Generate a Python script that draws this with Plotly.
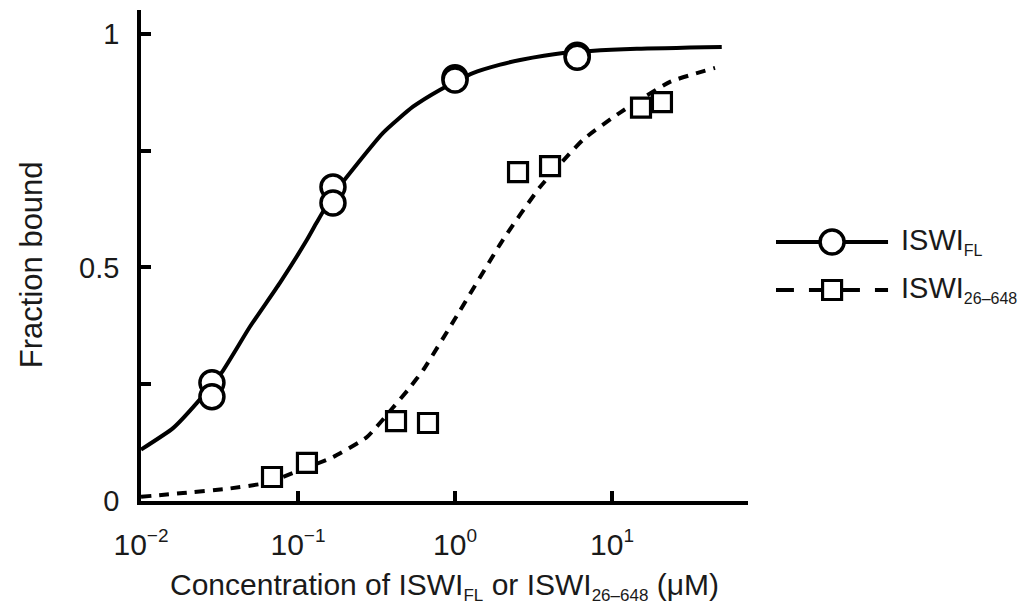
import plotly.graph_objects as go

# Measured binding data (fraction bound vs. protein concentration, µM)
fl_conc = [0.0283, 0.0283, 0.167, 0.167, 1.0, 1.0, 6.0, 6.0]
fl_bound = [0.253, 0.223, 0.672, 0.638, 0.906, 0.901, 0.954, 0.950]

trunc_conc = [0.0683, 0.114, 0.421, 0.673, 2.52, 4.03, 15.3, 20.8]
trunc_bound = [0.0514, 0.0814, 0.171, 0.167, 0.704, 0.717, 0.842, 0.854]

# Fitted binding curves
fl_fit_conc = [0.01, 0.016, 0.0227, 0.0328, 0.0494, 0.0767, 0.114, 0.132, 0.167, 0.205,
               0.348, 0.54, 0.80, 1.30, 1.94, 2.6, 4.88, 14.4, 50.0]
fl_fit_bound = [0.11, 0.156, 0.21, 0.276, 0.373, 0.467, 0.559, 0.597, 0.655, 0.694,
                0.788, 0.844, 0.880, 0.916, 0.934, 0.944, 0.959, 0.968, 0.972]

trunc_fit_conc = [0.01, 0.0185, 0.0353, 0.0635, 0.0929, 0.167, 0.275, 0.403, 0.502,
                  0.626, 1.0, 2.02, 3.48, 6.53, 11.2, 23.4, 45.3]
trunc_fit_bound = [0.009, 0.017, 0.026, 0.039, 0.06, 0.094, 0.137, 0.20, 0.238,
                   0.28, 0.39, 0.559, 0.672, 0.773, 0.831, 0.897, 0.927]

x_tick_vals = [0.01, 0.1, 1, 10]
x_tick_exps = ["−2", "−1", "0", "1"]
y_tick_vals = [0, 0.25, 0.5, 0.75, 1]
y_tick_text = ["0", "", "0.5", "", "1"]

# Legend key geometry on its own small axis pair
key_line_x = [0, 1]
key_mark_x = [0.5]
key_rows = {"fl": 1, "trunc": 0}

FONT = "Liberation Sans, Arial, sans-serif"
INK = "black"
TXT = "#1a1a1a"

fig = go.Figure()

fig.add_trace(go.Scatter(
    x=fl_fit_conc, y=fl_fit_bound, mode="lines",
    line=dict(color=INK, width=4, shape="spline", smoothing=0.5),
    showlegend=False, hoverinfo="skip"))
fig.add_trace(go.Scatter(
    x=trunc_fit_conc, y=trunc_fit_bound, mode="lines",
    line=dict(color=INK, width=4, dash="10px,8px", shape="spline", smoothing=0.5),
    showlegend=False, hoverinfo="skip"))

fig.add_trace(go.Scatter(
    x=fl_conc, y=fl_bound, mode="markers", name="ISWI FL",
    marker=dict(symbol="circle", size=24, color="white",
                line=dict(color=INK, width=3.5)),
    showlegend=False))
fig.add_trace(go.Scatter(
    x=trunc_conc, y=trunc_bound, mode="markers", name="ISWI 26-648",
    marker=dict(symbol="square", size=19, color="white",
                line=dict(color=INK, width=3.2)),
    showlegend=False))

# Legend keys
fig.add_trace(go.Scatter(
    x=key_line_x, y=[key_rows["fl"]] * 2, mode="lines", xaxis="x2", yaxis="y2",
    line=dict(color=INK, width=4), showlegend=False, hoverinfo="skip"))
fig.add_trace(go.Scatter(
    x=key_mark_x, y=[key_rows["fl"]], mode="markers", xaxis="x2", yaxis="y2",
    marker=dict(symbol="circle", size=24, color="white", line=dict(color=INK, width=3.5)),
    showlegend=False, hoverinfo="skip"))
fig.add_trace(go.Scatter(
    x=key_line_x, y=[key_rows["trunc"]] * 2, mode="lines", xaxis="x2", yaxis="y2",
    line=dict(color=INK, width=4, dash="18px,15px"), showlegend=False, hoverinfo="skip"))
fig.add_trace(go.Scatter(
    x=key_mark_x, y=[key_rows["trunc"]], mode="markers", xaxis="x2", yaxis="y2",
    marker=dict(symbol="square", size=19, color="white", line=dict(color=INK, width=3.2)),
    showlegend=False, hoverinfo="skip"))


def sub(text, size):
    return "<sub><span style='font-size:{}px'>{}</span></sub>".format(size, text)


legend_labels = [
    ("ISWI" + sub("FL", 16), key_rows["fl"]),
    ("ISWI" + sub("26–648", 16), key_rows["trunc"]),
]
annotations = []
for text, row in legend_labels:
    annotations.append(dict(
        text=text, xref="x2", yref="y2", x=1, y=row, xanchor="left", yanchor="middle",
        xshift=11, showarrow=False, font=dict(family=FONT, size=29, color=TXT)))

# y-axis title
annotations.append(dict(
    text="Fraction bound", xref="paper", yref="paper", x=-0.125, y=0.481,
    xanchor="center", yanchor="middle", textangle=-90, showarrow=False,
    font=dict(family=FONT, size=31, color=TXT)))

x_tick_text = ["10<sup><span style='font-size:19px'>{}</span></sup>".format(e)
               for e in x_tick_exps]

axis_common = dict(
    showline=True, linecolor=INK, linewidth=3.5, ticks="inside", ticklen=10,
    tickwidth=3.5, tickcolor=INK, showgrid=False, zeroline=False)

fig.update_layout(
    width=1028, height=614,
    margin=dict(l=141, r=10, t=10, b=113),
    paper_bgcolor="white", plot_bgcolor="white",
    font=dict(family=FONT, color=TXT),
    showlegend=False,
    xaxis=dict(
        type="log", range=[-2, 1.866], domain=[0, 0.6921], anchor="y",
        tickvals=x_tick_vals, ticktext=x_tick_text, ticklabelstandoff=14,
        tickfont=dict(family=FONT, size=30, color=TXT),
        title=dict(
            text="Concentration of ISWI" + sub("FL", 17) + " or ISWI" + sub("26–648", 17)
                 + " (μM)",
            font=dict(family=FONT, size=30, color=TXT), standoff=15),
        **axis_common),
    yaxis=dict(
        range=[0, 1.051], domain=[0, 1], anchor="x",
        tickvals=y_tick_vals, ticktext=y_tick_text, ticklabelstandoff=12,
        tickfont=dict(family=FONT, size=29, color=TXT),
        **axis_common),
    xaxis2=dict(domain=[0.724, 0.852], range=[0, 1], anchor="y2", visible=False),
    yaxis2=dict(domain=[0.3809, 0.5764], range=[-0.5, 1.5], anchor="x2", visible=False),
    annotations=annotations,
)

fig.write_html("out.html")
